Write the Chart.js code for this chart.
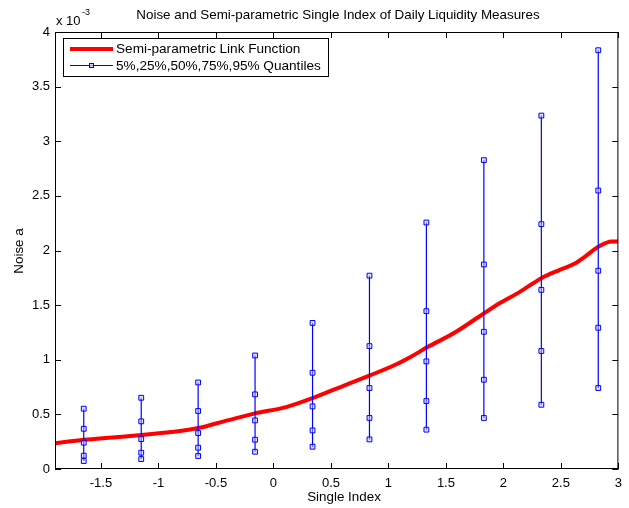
<!DOCTYPE html>
<html>
<head>
<meta charset="utf-8">
<script src="https://cdn.jsdelivr.net/npm/chart.js@4.4.0/dist/chart.umd.min.js"></script>
<style>
html,body{margin:0;padding:0;background:#fff;}
#wrap{width:629px;height:508px;position:relative;}
</style>
</head>
<body>
<div id="wrap"><canvas id="c" width="629" height="508"></canvas></div>
<script>
// ---- data (y values in units of 1e-3) ----
const linkX = [-1.9, -1.65, -1.4, -1.15, -0.89, -0.65, -0.4, -0.16, 0.11, 0.34, 0.63, 0.84, 1.06, 1.2, 1.34, 1.57, 1.8, 1.97, 2.14, 2.33, 2.49, 2.63, 2.71, 2.83, 2.94, 3.0];
const linkY = [0.236, 0.267, 0.289, 0.311, 0.338, 0.375, 0.445, 0.509, 0.567, 0.649, 0.771, 0.857, 0.954, 1.03, 1.116, 1.244, 1.403, 1.519, 1.619, 1.747, 1.823, 1.885, 1.945, 2.037, 2.083, 2.083];

const quantX = [-1.65, -1.15, -0.655, -0.16, 0.34, 0.835, 1.33, 1.83, 2.33, 2.825];
const q05 = [0.073, 0.091, 0.119, 0.158, 0.204, 0.271, 0.360, 0.467, 0.588, 0.741];
const q25 = [0.122, 0.149, 0.195, 0.268, 0.353, 0.467, 0.622, 0.817, 1.080, 1.293];
const q50 = [0.241, 0.274, 0.329, 0.445, 0.573, 0.741, 0.985, 1.256, 1.640, 1.815];
const q75 = [0.368, 0.436, 0.531, 0.683, 0.881, 1.125, 1.445, 1.872, 2.241, 2.549];
const q95 = [0.552, 0.652, 0.792, 1.039, 1.337, 1.770, 2.256, 2.827, 3.235, 3.833];

const xTicks = [-1.5, -1, -0.5, 0, 0.5, 1, 1.5, 2, 2.5, 3];
const yTicks = [0, 0.5, 1, 1.5, 2, 2.5, 3, 3.5, 4];

const titleText = 'Noise and Semi-parametric Single Index of Daily Liquidity Measures';
const xLabel = 'Single Index';
const yLabel = 'Noise a';
const legendLabels = ['Semi-parametric Link Function', '5%,25%,50%,75%,95% Quantiles'];

const FONT = '"Liberation Sans", Arial, sans-serif';
const RED = '#ff0000';
const BLUE = '#0000ff';

const datasets = [{
  label: legendLabels[0],
  data: linkX.map((x, i) => ({x, y: linkY[i]})),
  showLine: true,
  borderColor: RED,
  backgroundColor: RED,
  borderWidth: 4,
  pointRadius: 0,
  cubicInterpolationMode: 'monotone',
  order: 2
}];
quantX.forEach((x, i) => {
  datasets.push({
    label: i === 0 ? legendLabels[1] : '',
    data: [q05[i], q25[i], q50[i], q75[i], q95[i]].map(y => ({x, y})),
    showLine: true,
    borderColor: BLUE,
    backgroundColor: 'rgba(200,200,255,0.5)',
    borderWidth: 1.2,
    pointStyle: 'rect',
    pointRadius: 3.4,
    pointBorderColor: BLUE,
    pointBorderWidth: 1,
    order: 1
  });
});

const decor = {
  id: 'decor',
  afterDraw(chart) {
    const ctx = chart.ctx;
    const a = chart.chartArea;
    const xs = chart.scales.x, ys = chart.scales.y;
    ctx.save();
    // box
    ctx.strokeStyle = '#000';
    ctx.lineWidth = 1;
    ctx.strokeRect(a.left + 0.5, a.top + 0.5, a.right - a.left - 1, a.bottom - a.top - 1);
    // inward ticks
    const TL = 6;
    ctx.beginPath();
    xTicks.forEach(v => {
      const p = Math.round(xs.getPixelForValue(v)) + 0.5;
      ctx.moveTo(p, a.bottom); ctx.lineTo(p, a.bottom - TL);
      ctx.moveTo(p, a.top); ctx.lineTo(p, a.top + TL);
    });
    yTicks.forEach(v => {
      const p = Math.round(ys.getPixelForValue(v)) + 0.5;
      ctx.moveTo(a.left, p); ctx.lineTo(a.left + TL, p);
      ctx.moveTo(a.right, p); ctx.lineTo(a.right - TL, p);
    });
    ctx.stroke();
    // title
    ctx.fillStyle = '#000';
    ctx.font = '13.4px ' + FONT;
    ctx.textAlign = 'center';
    ctx.textBaseline = 'middle';
    ctx.fillText(titleText, 338, 15);
    // x label
    ctx.fillText(xLabel, 344, 497);
    // y label
    ctx.save();
    ctx.translate(19, 251);
    ctx.rotate(-Math.PI / 2);
    ctx.fillText(yLabel, 0, 0);
    ctx.restore();
    // multiplier
    ctx.textAlign = 'left';
    ctx.font = '13px ' + FONT;
    ctx.fillText('x 10', 56, 21);
    ctx.font = '9px ' + FONT;
    ctx.fillText('-3', 82, 13);
    // legend
    const lx = 63, ly = 38, lw = 265, lh = 38;
    ctx.fillStyle = '#fff';
    ctx.fillRect(lx, ly, lw, lh);
    ctx.strokeStyle = '#000';
    ctx.lineWidth = 1;
    ctx.strokeRect(lx + 0.5, ly + 0.5, lw, lh);
    ctx.strokeStyle = RED; ctx.lineWidth = 4;
    ctx.beginPath(); ctx.moveTo(70, 49); ctx.lineTo(113, 49); ctx.stroke();
    ctx.strokeStyle = BLUE; ctx.lineWidth = 1.2;
    ctx.beginPath(); ctx.moveTo(70, 65.5); ctx.lineTo(113, 65.5); ctx.stroke();
    ctx.fillStyle = 'rgba(200,200,255,0.8)';
    ctx.fillRect(89, 63, 5, 5);
    ctx.lineWidth = 1;
    ctx.strokeRect(89.5, 63.5, 4, 4);
    ctx.fillStyle = '#000';
    ctx.font = '13.6px ' + FONT;
    ctx.textBaseline = 'middle';
    ctx.fillText(legendLabels[0], 116, 49);
    ctx.fillText(legendLabels[1], 116, 66);
    ctx.restore();
  }
};

new Chart(document.getElementById('c'), {
  type: 'scatter',
  data: { datasets },
  plugins: [decor],
  options: {
    responsive: false,
    animation: false,
    layout: { padding: { top: 32, right: 2, left: 0, bottom: 0 } },
    plugins: { legend: { display: false }, tooltip: { enabled: false }, title: { display: false } },
    scales: {
      x: {
        type: 'linear', min: -1.9, max: 3,
        grid: { display: false, drawTicks: false },
        border: { display: false },
        afterFit: s => { s.height = 39; },
        afterBuildTicks: s => { s.ticks = xTicks.map(v => ({value: v})); },
        ticks: { color: '#000', font: { family: FONT, size: 13 }, padding: 7, maxRotation: 0,
          callback: v => String(+(+v).toFixed(2)) }
      },
      y: {
        type: 'linear', min: 0, max: 4,
        grid: { display: false, drawTicks: false },
        border: { display: false },
        afterFit: s => { s.width = 55; },
        afterBuildTicks: s => { s.ticks = yTicks.map(v => ({value: v})); },
        ticks: { color: '#000', font: { family: FONT, size: 13 }, padding: 5,
          callback: v => String(+(+v).toFixed(2)) }
      }
    }
  }
});
</script>
</body>
</html>
